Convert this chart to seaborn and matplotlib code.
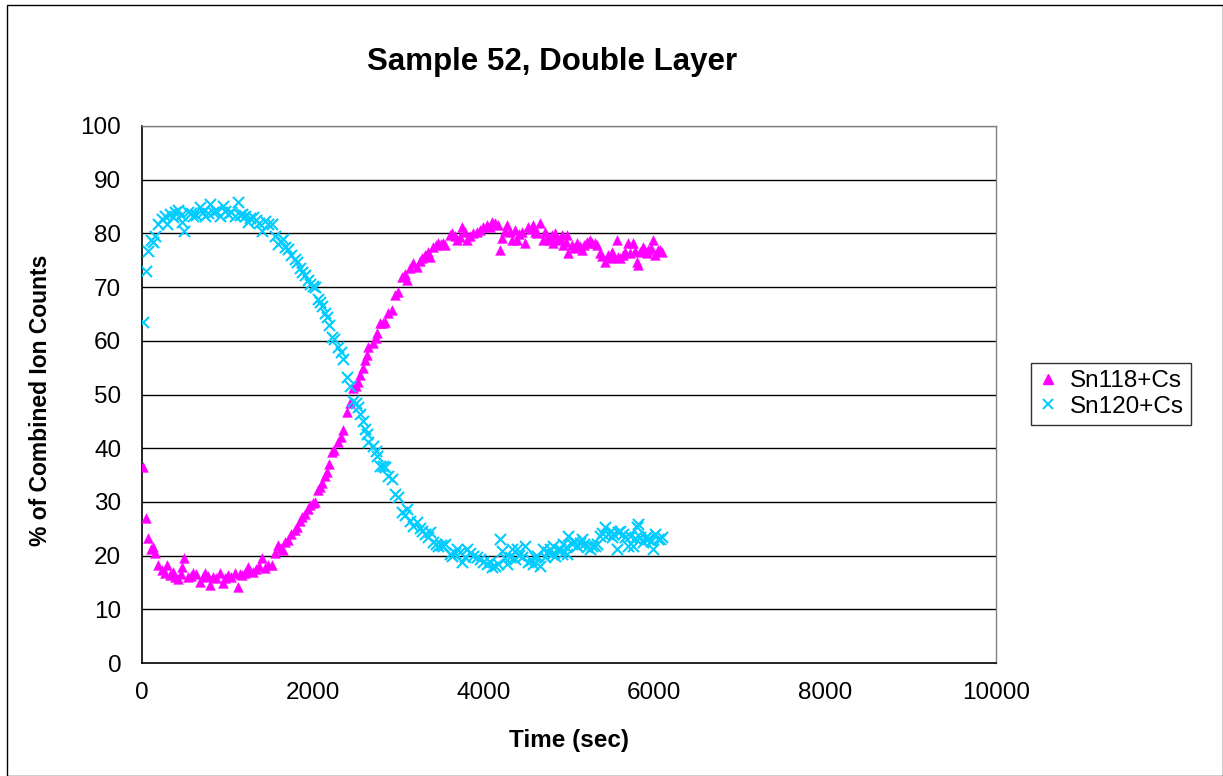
import matplotlib
matplotlib.use("Agg")
import matplotlib.pyplot as plt
import seaborn as sns
import pandas as pd
from matplotlib.patches import Rectangle
from matplotlib.lines import Line2D

time_sec = [
    12, 47, 70, 105, 125, 152, 187, 234, 270, 293, 328, 360, 386, 422, 455, 468, 492, 539, 570, 597,
    635, 679, 710, 738, 770, 796, 831, 870, 913, 948, 975, 1007, 1045, 1089, 1124, 1150, 1171, 1205, 1241, 1270,
    1300, 1340, 1375, 1405, 1440, 1480, 1522, 1557, 1592, 1625, 1651, 1680, 1710, 1750, 1792, 1820, 1850, 1873, 1910, 1940,
    1967, 2000, 2026, 2061, 2085, 2108, 2140, 2166, 2195, 2225, 2245, 2290, 2330, 2354, 2400, 2430, 2471, 2500, 2529, 2553,
    2588, 2615, 2635, 2646, 2700, 2740, 2755, 2787, 2820, 2845, 2880, 2927, 2963, 3000, 3044, 3080, 3103, 3138, 3173, 3220,
    3250, 3279, 3314, 3349, 3372, 3407, 3440, 3466, 3500, 3525, 3548, 3607, 3630, 3660, 3689, 3724, 3747, 3780, 3806, 3840,
    3876, 3923, 3958, 3993, 4040, 4070, 4098, 4133, 4169, 4192, 4215, 4245, 4274, 4309, 4332, 4368, 4391, 4420, 4450, 4485,
    4520, 4550, 4578, 4602, 4630, 4660, 4696, 4719, 4750, 4778, 4800, 4813, 4836, 4870, 4895, 4918, 4930, 4960, 4977, 4988,
    5035, 5060, 5094, 5125, 5152, 5180, 5211, 5246, 5269, 5304, 5328, 5363, 5390, 5422, 5457, 5490, 5504, 5515, 5562, 5574,
    5597, 5630, 5656, 5691, 5714, 5749, 5775, 5796, 5808, 5831, 5866, 5890, 5913, 5925, 5955, 5984, 6007, 6040, 6066, 6089,
]

sn118 = [
    36.5, 27.0, 23.3, 21.2, 21.6, 20.5, 18.2, 17.3, 16.8, 18.2, 16.4, 17.0, 16.0, 15.6, 16.6, 17.9, 19.5, 16.0, 16.2, 16.8,
    16.5, 15.1, 16.0, 16.8, 16.2, 14.5, 16.0, 15.8, 16.8, 14.9, 15.8, 16.4, 16.0, 16.8, 14.2, 16.5, 16.4, 16.8, 17.9, 17.2,
    17.0, 17.5, 18.0, 19.5, 17.7, 18.3, 18.2, 20.5, 22.0, 21.5, 21.0, 22.5, 22.9, 24.0, 24.8, 25.3, 26.5, 27.2, 27.8, 28.6,
    29.4, 29.8, 30.0, 32.2, 32.8, 33.5, 34.8, 35.6, 37.0, 39.3, 39.6, 41.2, 42.0, 43.4, 46.7, 48.5, 51.2, 51.6, 52.3, 53.6,
    55.0, 56.5, 57.4, 58.8, 59.6, 60.5, 61.4, 63.3, 63.3, 63.5, 65.2, 65.7, 68.5, 69.0, 71.9, 72.4, 71.3, 73.5, 74.5, 73.7,
    74.8, 75.4, 76.0, 76.5, 75.6, 77.5, 77.8, 78.2, 78.0, 78.2, 77.8, 79.7, 80.0, 79.5, 78.8, 79.3, 81.2, 80.2, 78.8, 79.6,
    80.0, 80.3, 80.6, 81.2, 81.6, 81.2, 82.1, 81.9, 81.6, 76.9, 79.1, 80.4, 81.6, 80.3, 78.8, 80.6, 78.8, 79.8, 80.3, 78.2,
    81.2, 80.8, 81.6, 80.3, 80.0, 82.0, 78.8, 80.3, 79.4, 78.8, 79.7, 78.2, 80.0, 79.0, 78.8, 79.7, 77.8, 78.4, 79.7, 76.4,
    77.8, 77.2, 78.2, 77.6, 76.9, 77.8, 78.4, 78.8, 78.2, 78.2, 77.8, 76.4, 75.8, 74.7, 76.0, 75.4, 76.5, 76.0, 78.8, 75.6,
    75.4, 76.0, 76.5, 78.2, 76.4, 78.2, 76.8, 74.7, 74.1, 76.5, 77.5, 76.8, 76.4, 76.9, 77.2, 78.8, 76.0, 77.0, 76.9, 76.5,
]

sn120 = [
    63.5, 73.0, 76.7, 78.8, 78.4, 79.5, 81.8, 82.7, 83.2, 81.8, 83.6, 83.0, 84.0, 84.4, 83.4, 82.1, 80.5, 84.0, 83.8, 83.2,
    83.5, 84.9, 84.0, 83.2, 83.8, 85.5, 84.0, 84.2, 83.2, 85.1, 84.2, 83.6, 84.0, 83.2, 85.8, 83.5, 83.6, 83.2, 82.1, 82.8,
    83.0, 82.5, 82.0, 80.5, 82.3, 81.7, 81.8, 79.5, 78.0, 78.5, 79.0, 77.5, 77.1, 76.0, 75.2, 74.7, 73.5, 72.8, 72.2, 71.4,
    70.6, 70.2, 70.0, 67.8, 67.2, 66.5, 65.2, 64.4, 63.0, 60.7, 60.4, 58.8, 58.0, 56.6, 53.3, 51.5, 48.8, 48.4, 47.7, 46.4,
    45.0, 43.5, 42.6, 41.2, 40.4, 39.5, 38.6, 36.7, 36.7, 36.5, 34.8, 34.3, 31.5, 31.0, 28.1, 27.6, 28.7, 26.5, 25.5, 26.3,
    25.2, 24.6, 24.0, 23.5, 24.4, 22.5, 22.2, 21.8, 22.0, 21.8, 22.2, 20.3, 20.0, 20.5, 21.2, 20.7, 18.8, 19.8, 21.2, 20.4,
    20.0, 19.7, 19.4, 18.8, 18.4, 18.8, 17.9, 18.1, 18.4, 23.1, 20.9, 19.6, 18.4, 19.7, 21.2, 19.4, 21.2, 20.2, 19.7, 21.8,
    18.8, 19.2, 18.4, 19.7, 20.0, 18.0, 21.2, 19.7, 20.6, 21.2, 20.3, 21.8, 20.0, 21.0, 21.2, 20.3, 22.2, 21.6, 20.3, 23.6,
    22.2, 22.8, 21.8, 22.4, 23.1, 22.2, 21.6, 21.2, 21.8, 21.8, 22.2, 23.6, 24.2, 25.3, 24.0, 24.6, 23.5, 24.0, 21.2, 24.4,
    24.6, 24.0, 23.5, 21.8, 23.6, 21.8, 23.2, 25.3, 25.9, 23.5, 22.5, 23.2, 23.6, 23.1, 22.8, 21.2, 24.0, 23.0, 23.1, 23.5,
]

series_names = ["Sn118+Cs", "Sn120+Cs"]
title_text = "Sample 52, Double Layer"
x_label = "Time (sec)"
y_label = "% of Combined Ion Counts"
x_ticks = [0, 2000, 4000, 6000, 8000, 10000]
y_ticks = [0, 10, 20, 30, 40, 50, 60, 70, 80, 90, 100]

df118 = pd.DataFrame({"t": time_sec, "v": sn118})
df120 = pd.DataFrame({"t": time_sec, "v": sn120})

sns.set_style("white")
plt.rcParams["font.family"] = ["Liberation Sans", "DejaVu Sans"]
plt.rcParams["text.color"] = "black"
plt.rcParams["axes.labelcolor"] = "black"
plt.rcParams["xtick.color"] = "black"
plt.rcParams["ytick.color"] = "black"

W, H = 1223, 776
fig = plt.figure(figsize=(W / 100, H / 100), dpi=100)
ax = fig.add_axes([142 / W, 1 - 663 / H, (996 - 142) / W, (663 - 126) / H])

magenta = "#FF00FF"
cyan = "#00CCFF"

sns.scatterplot(data=df118, x="t", y="v", ax=ax, marker="^", s=50, color=magenta,
                edgecolor=magenta, linewidth=0.3, zorder=3, legend=False)
sns.scatterplot(data=df120, x="t", y="v", ax=ax, marker="x", s=64, color=cyan,
                linewidth=1.5, zorder=4, legend=False)

ax.set_xlim(0, 10000)
ax.set_ylim(0, 100)
ax.set_xticks(x_ticks)
ax.set_yticks(y_ticks)
ax.set_xticklabels([str(v) for v in x_ticks], fontsize=17.5)
ax.set_yticklabels([str(v) for v in y_ticks], fontsize=17.5)
ax.tick_params(axis="both", direction="out", length=4, width=1, color="black")
ax.tick_params(axis="y", pad=11)
ax.tick_params(axis="x", pad=10)

ax.grid(False)
for yv in y_ticks[1:-1]:
    ax.axhline(yv, color="black", linewidth=1.0, zorder=1)
ax.axhline(100, color="#808080", linewidth=1.0, zorder=1)

for side in ["top", "right"]:
    ax.spines[side].set_color("#808080")
    ax.spines[side].set_linewidth(1.0)
for side in ["left", "bottom"]:
    ax.spines[side].set_color("black")
    ax.spines[side].set_linewidth(1.2)

ax.set_xlabel(x_label, fontsize=17.5, fontweight="bold")
ax.set_ylabel(y_label, fontsize=16.5, fontweight="bold")
ax.xaxis.label.set_va("center")
ax.yaxis.label.set_va("center")
ax.xaxis.set_label_coords(0.5, -(740 - 663) / 537)
ax.yaxis.set_label_coords((41 - 142) / 854, (663 - 400) / 537)

fig.text(552 / W, 1 - 62 / H, title_text, ha="center", va="center",
         fontsize=22.5, fontweight="bold")

handles = [
    Line2D([], [], linestyle="none", marker="^", markersize=6.5, color=magenta),
    Line2D([], [], linestyle="none", marker="x", markersize=7.5, markeredgewidth=1.4, color=cyan),
]
leg = fig.legend(handles, series_names, loc="center left",
                 bbox_to_anchor=(1031 / W, 1 - 394 / H), fontsize=17.5,
                 frameon=True, fancybox=False, edgecolor="black",
                 handlelength=0.8, handletextpad=0.5, borderpad=0.3,
                 labelspacing=0.15, borderaxespad=0)
leg.get_frame().set_linewidth(1.0)

fig.patches.append(Rectangle((7 / W, 0), 1 - 7 / W - 0.5 / W, 1 - 5 / H,
                             transform=fig.transFigure, fill=False,
                             edgecolor="black", linewidth=1.0))

fig.savefig("out.png", dpi=100, facecolor="white")
